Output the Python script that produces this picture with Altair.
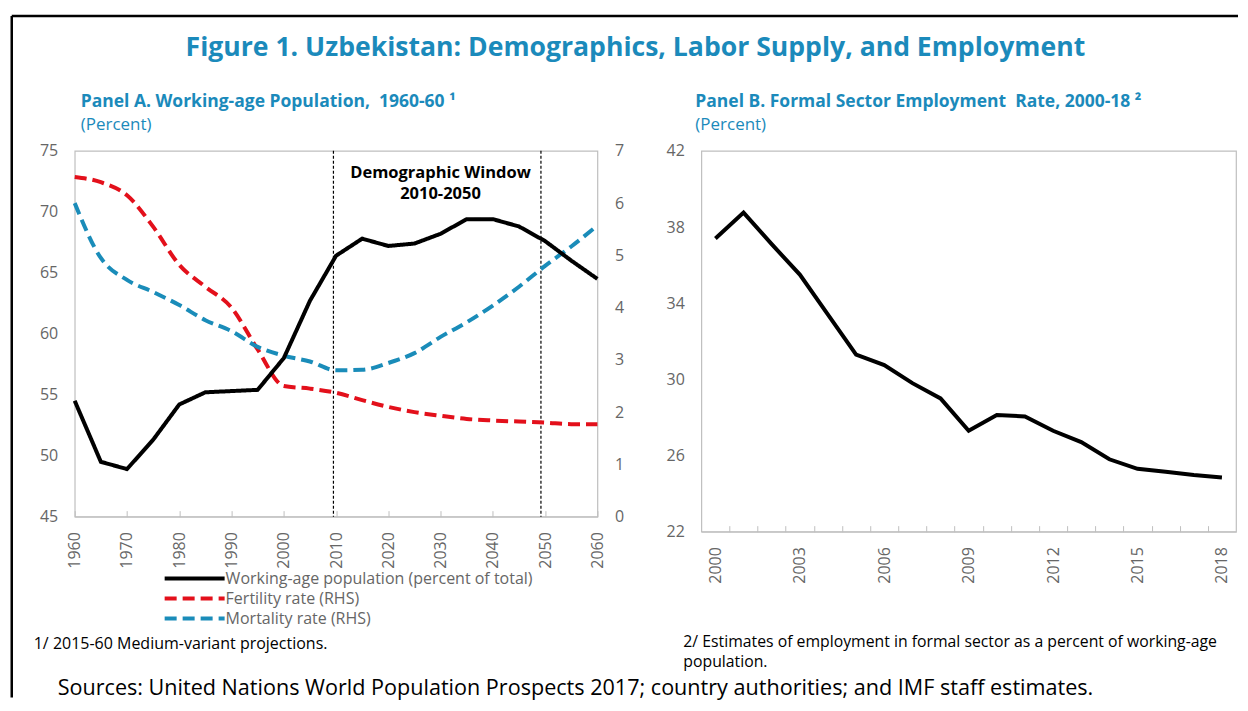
import altair as alt
import pandas as pd

# ---------------- Data ----------------
years_a = [1960, 1965, 1970, 1975, 1980, 1985, 1990, 1995, 2000, 2005, 2010,
           2015, 2020, 2025, 2030, 2035, 2040, 2045, 2050, 2055, 2060]
working_age = [54.5, 49.5, 48.9, 51.3, 54.2, 55.2, 55.3, 55.4, 58.0, 62.7, 66.4,
               67.8, 67.2, 67.4, 68.2, 69.4, 69.4, 68.8, 67.6, 66.0, 64.5]
fertility = [6.5, 6.4, 6.15, 5.55, 4.82, 4.4, 4.0, 3.2, 2.5, 2.45, 2.37,
             2.23, 2.1, 2.0, 1.93, 1.87, 1.84, 1.82, 1.8, 1.77, 1.77]
mortality = [6.0, 4.95, 4.53, 4.3, 4.05, 3.76, 3.55, 3.25, 3.08, 2.97, 2.8,
             2.81, 2.94, 3.13, 3.44, 3.72, 4.04, 4.4, 4.8, 5.17, 5.57]
series_names = ["Working-age population (percent of total)",
                "Fertility rate (RHS)", "Mortality rate (RHS)"]
window_years = [2009.5, 2049.2]

years_b = list(range(2000, 2019))
formal_emp = [37.4, 38.76, 37.1, 35.5, 33.4, 31.3, 30.75, 29.8, 29.0, 27.3,
              28.13, 28.05, 27.3, 26.7, 25.8, 25.3, 25.15, 24.97, 24.85]

NB = "\u00a0"
fig_title = "Figure 1. Uzbekistan: Demographics, Labor Supply, and Employment"
panel_a_title = "Panel A. Working-age Population," + NB + NB + "1960-60 \u00b9"
panel_b_title = "Panel B. Formal Sector Employment" + NB + NB + "Rate, 2000-18 \u00b2"
unit_text = "(Percent)"
window_text = "Demographic Window\n2010-2050"
note1 = "1/ 2015-60 Medium-variant projections."
note2 = "2/ Estimates of employment in formal sector as a percent of working-age\npopulation."
sources = "Sources: United Nations World Population Prospects 2017; country authorities; and IMF staff estimates."

# ---------------- Style ----------------
FONT = "Open Sans"
TEAL = "#1b8abb"
LBL = "#666666"
AX = "#bfbfbf"

df_wa = pd.DataFrame({"year": years_a, "value": working_age, "series": series_names[0]})
df_rhs = pd.concat([
    pd.DataFrame({"year": years_a, "value": fertility, "series": series_names[1]}),
    pd.DataFrame({"year": years_a, "value": mortality, "series": series_names[2]}),
])
df_win = pd.DataFrame({"year": window_years})
df_b = pd.DataFrame({"year": years_b, "value": formal_emp})

legend = alt.Legend(orient="none", legendX=110, legendY=418, title=None,
                    symbolType="M-3.75,0L3.75,0", symbolSize=256, symbolStrokeWidth=4,
                    labelFontSize=16, labelColor=LBL, labelFont=FONT, labelLimit=400,
                    labelOffset=21, rowPadding=2)
color_enc = alt.Color("series:N", scale=alt.Scale(domain=series_names,
                      range=["#000000", "#e3101b", "#1a8cb9"]), legend=legend)
dash_enc = alt.StrokeDash("series:N", scale=alt.Scale(domain=series_names,
                          range=[[1, 0], [12, 6], [12, 6]]), legend=legend)

x_a = alt.X("year:Q", scale=alt.Scale(domain=[1960, 2060], nice=False, zero=False),
            axis=alt.Axis(values=list(range(1960, 2061, 10)), format="d", labelAngle=270,
                          labelFontSize=16, labelColor=LBL, labelFont=FONT,
                          tickColor=AX, tickSize={"expr": "-6"}, domainColor=AX,
                          grid=False, title=None, labelPadding=21))


def txt(s, x, y, size, color="black", weight="normal", align="left", lh=None):
    return alt.Chart(pd.DataFrame({"t": [s]})).mark_text(
        font=FONT, fontSize=size, color=color, fontWeight=weight, align=align,
        baseline="alphabetic", lineBreak="\n", lineHeight=lh or size * 1.3
    ).encode(text="t:N", x=alt.value(x), y=alt.value(y))


one = pd.DataFrame({"t": [0]})
frame_top = alt.Chart(one).mark_rule(color="black", strokeWidth=2.5).encode(
    x=alt.value(-63), x2=alt.value(1164), y=alt.value(-135))
frame_left = alt.Chart(one).mark_rule(color="black", strokeWidth=2.5).encode(
    x=alt.value(-63), y=alt.value(-135), y2=alt.value(547))

rules = alt.Chart(df_win).mark_rule(color="black", strokeWidth=1.2, strokeDash=[3, 2]).encode(x=x_a)

line_wa = alt.Chart(df_wa).mark_line(strokeWidth=4).encode(
    x=x_a,
    y=alt.Y("value:Q", scale=alt.Scale(domain=[45, 75], nice=False, zero=False),
            axis=alt.Axis(values=list(range(45, 76, 5)), ticks=False, domain=False, grid=False,
                          labelFontSize=16, labelColor=LBL, labelFont=FONT, labelPadding=17,
                          title=None, orient="left")),
    color=color_enc, strokeDash=dash_enc)

line_rhs = alt.Chart(df_rhs).mark_line(strokeWidth=4, interpolate="monotone").encode(
    x=x_a,
    y=alt.Y("value:Q", scale=alt.Scale(domain=[0, 7], nice=False, zero=False),
            axis=alt.Axis(values=list(range(0, 8)), ticks=False, domain=False, grid=False,
                          labelFontSize=16, labelColor=LBL, labelFont=FONT, labelPadding=17,
                          title=None, orient="right")),
    color=color_enc, strokeDash=dash_enc, detail="series:N")

panel_a = alt.layer(
    rules, line_rhs, line_wa,
    txt(window_text, 366, 27, 16.5, weight="bold", align="center"),
    txt(fig_title, 561, -95, 26.6, color=TEAL, weight="bold", align="center"),
    txt(panel_a_title, 6, -44, 17.5, color=TEAL, weight="bold"),
    txt(unit_text, 6, -21, 17, color=TEAL),
    txt(note1, -41, 498, 16),
    txt(sources, -17, 544, 21.6),
    frame_top, frame_left,
).resolve_scale(y="independent").properties(width=523, height=366)

x_b_scale = alt.Scale(domain=[1999.5, 2018.5], nice=False, zero=False)
y_b = alt.Y("value:Q", scale=alt.Scale(domain=[22, 42], nice=False, zero=False),
            axis=alt.Axis(values=list(range(22, 43, 4)), ticks=False, domain=False, grid=False,
                          labelFontSize=16, labelColor=LBL, labelFont=FONT, labelPadding=17,
                          title=None))
line_b = alt.Chart(df_b).mark_line(strokeWidth=4, color="black").encode(
    x=alt.X("year:Q", scale=x_b_scale,
            axis=alt.Axis(values=[y + 0.5 for y in years_b[:-1]], labels=False,
                          tickColor=AX, tickSize={"expr": "-6"}, domainColor=AX,
                          grid=False, title=None, orient="bottom")),
    y=y_b)
labels_b = alt.Chart(df_b).mark_line(opacity=0).encode(
    x=alt.X("year:Q", scale=x_b_scale,
            axis=alt.Axis(values=years_b[::3], format="d", labelAngle=270, ticks=False,
                          domain=False, grid=False, labelFontSize=16, labelColor=LBL,
                          labelFont=FONT, labelPadding=15, title=None, orient="bottom")),
    y=y_b)

panel_b = alt.layer(
    line_b, labels_b,
    txt(panel_b_title, -6, -44, 17.5, color=TEAL, weight="bold"),
    txt(unit_text, -6, -21, 17, color=TEAL),
    txt(note2, -18, 496, 15.8, lh=20),
).resolve_axis(x="independent").properties(width=535, height=381)

chart = alt.hconcat(panel_a, panel_b, spacing=104, bounds="flush").configure(
    padding={"left": 1.75, "top": 5.75, "right": 0, "bottom": 0}, font=FONT
).configure_view(stroke=AX, strokeWidth=1.2)

chart.save("out.html", embed_options={"renderer": "svg", "actions": False})
